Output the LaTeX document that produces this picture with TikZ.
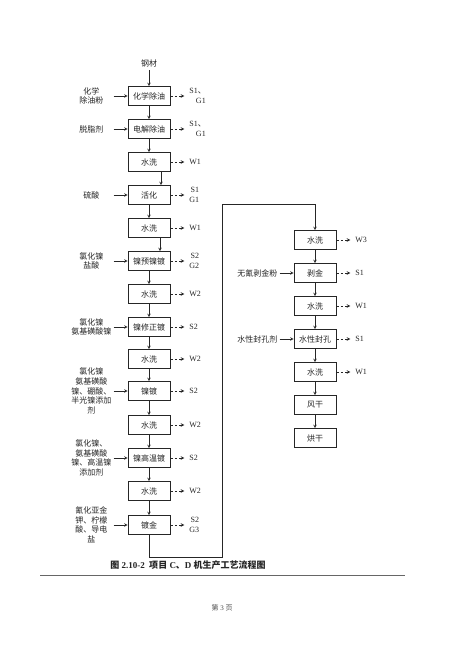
\documentclass[tikz,border=0pt]{standalone}
\usepackage{fontspec}
\setmainfont{Liberation Serif}
\newfontfamily\cjk{Noto Sans CJK SC}
\usetikzlibrary{positioning}

\tikzset{
  proc/.style={draw, minimum width=42pt, minimum height=19pt, inner sep=0pt,
    font=\cjk\fontsize{8}{9}\selectfont},
  inlbl/.style={inner sep=1pt, text width=42pt, align=center,
    font=\cjk\fontsize{8}{9.6}\selectfont},
  outlbl/.style={inner sep=1pt, outer sep=4pt, align=right,
    font=\fontsize{8}{10}\selectfont},
  flow/.style={->},
  outflow/.style={->, dash pattern=on 2.5pt off 2pt},
}

\begin{document}
\begin{tikzpicture}[x=1pt, y=-1pt, >=stealth, line width=0.6pt, color=black!85]
  \fill[white] (0,0) rectangle (459,650);
  \useasboundingbox (0,0) rectangle (459,650);

  % left column
  \node[font=\cjk\fontsize{8}{9}\selectfont] (raw) at (149,63) {钢材};
  \node[proc] (c1) at (149,96) {化学除油};
  \node[proc] (c2) at (149,129) {电解除油};
  \node[proc] (c3) at (149,162) {水洗};
  \node[proc] (c4) at (149,195) {活化};
  \node[proc] (c5) at (149,228) {水洗};
  \node[proc] (c6) at (149,261) {镍预镍镀};
  \node[proc] (c7) at (149,294) {水洗};
  \node[proc] (c8) at (149,327) {镍修正镀};
  \node[proc] (c9) at (149,359) {水洗};
  \node[proc] (c10) at (149,391) {镍镀};
  \node[proc] (c11) at (149,425) {水洗};
  \node[proc] (c12) at (149,458) {镍高温镀};
  \node[proc] (c13) at (149,491) {水洗};
  \node[proc] (c14) at (149,525) {镀金};

  \node[inlbl, left=14pt of c1] (i1) {化学\\除油粉};
  \node[inlbl, left=14pt of c2] (i2) {脱脂剂};
  \node[inlbl, left=14pt of c4] (i4) {硫酸};
  \node[inlbl, left=14pt of c6] (i6) {氯化镍\\盐酸};
  \node[inlbl, left=14pt of c8] (i8) {氯化镍\\氨基磺酸镍};
  \node[inlbl, left=14pt of c10] (i10) {氯化镍\\氨基磺酸\\镍、硼酸、\\半光镍添加\\剂};
  \node[inlbl, left=14pt of c12] (i12) {氯化镍、\\氨基磺酸\\镍、高温镍\\添加剂};
  \node[inlbl, left=14pt of c14] (i14) {氰化亚金\\钾、柠檬\\酸、导电\\盐};

  \node[outlbl, right=14pt of c1] (o1) {S1{\cjk 、}\\G1};
  \node[outlbl, right=14pt of c2] (o2) {S1{\cjk 、}\\G1};
  \node[outlbl, right=14pt of c3] (o3) {W1};
  \node[outlbl, right=14pt of c4] (o4) {S1\\G1};
  \node[outlbl, right=14pt of c5] (o5) {W1};
  \node[outlbl, right=14pt of c6] (o6) {S2\\G2};
  \node[outlbl, right=14pt of c7] (o7) {W2};
  \node[outlbl, right=14pt of c8] (o8) {S2};
  \node[outlbl, right=14pt of c9] (o9) {W2};
  \node[outlbl, right=14pt of c10] (o10) {S2};
  \node[outlbl, right=14pt of c11] (o11) {W2};
  \node[outlbl, right=14pt of c12] (o12) {S2};
  \node[outlbl, right=14pt of c13] (o13) {W2};
  \node[outlbl, right=14pt of c14] (o14) {S2\\G3};

  % right column
  \node[proc] (r1) at (315,240) {水洗};
  \node[proc] (r2) at (315,273) {剥金};
  \node[proc] (r3) at (315,306) {水洗};
  \node[proc] (r4) at (315,339) {水性封孔};
  \node[proc] (r5) at (315,372) {水洗};
  \node[proc] (r6) at (315,405) {风干};
  \node[proc] (r7) at (315,438) {烘干};

  \node[inlbl, left=14pt of r2] (j2) {无氰剥金粉};
  \node[inlbl, left=14pt of r4] (j4) {水性封孔剂};

  \node[outlbl, right=14pt of r1] (p1) {W3};
  \node[outlbl, right=14pt of r2] (p2) {S1};
  \node[outlbl, right=14pt of r3] (p3) {W1};
  \node[outlbl, right=14pt of r4] (p4) {S1};
  \node[outlbl, right=14pt of r5] (p5) {W1};

  % main flow
  \draw[flow] (raw) -- (c1);
  \draw[flow] (c1) -- (c2);
  \draw[flow] (c2) -- (c3);
  \draw[flow] ([xshift=12pt]c3.south) -- ([xshift=12pt]c4.north);
  \draw[flow] (c4) -- (c5);
  \draw[flow] ([xshift=11pt]c5.south) -- ([xshift=11pt]c6.north);
  \draw[flow] (c6) -- (c7);
  \draw[flow] (c7) -- (c8);
  \draw[flow] (c8) -- (c9);
  \draw[flow] (c9) -- (c10);
  \draw[flow] (c10) -- (c11);
  \draw[flow] (c11) -- (c12);
  \draw[flow] (c12) -- (c13);
  \draw[flow] (c13) -- (c14);
  \coordinate (lpa) at (222,557);
  \coordinate (lpb) at (222,204);
  \draw[flow] (c14) |- (lpa) -- (lpb) -| (r1);
  \draw[flow] (r1) -- (r2);
  \draw[flow] (r2) -- (r3);
  \draw[flow] (r3) -- (r4);
  \draw[flow] (r4) -- (r5);
  \draw[flow] (r5) -- (r6);
  \draw[flow] (r6) -- (r7);

  % inputs
  \draw[flow] (i1) -- (c1);
  \draw[flow] (i2) -- (c2);
  \draw[flow] (i4) -- (c4);
  \draw[flow] (i6) -- (c6);
  \draw[flow] (i8) -- (c8);
  \draw[flow] (i10) -- (c10);
  \draw[flow] (i12) -- (c12);
  \draw[flow] (i14) -- (c14);
  \draw[flow] (j2) -- (r2);
  \draw[flow] (j4) -- (r4);

  % outputs
  \draw[outflow] (c1) -- (o1);
  \draw[outflow] (c2) -- (o2);
  \draw[outflow] (c3) -- (o3);
  \draw[outflow] (c4) -- (o4);
  \draw[outflow] (c5) -- (o5);
  \draw[outflow] (c6) -- (o6);
  \draw[outflow] (c7) -- (o7);
  \draw[outflow] (c8) -- (o8);
  \draw[outflow] (c9) -- (o9);
  \draw[outflow] (c10) -- (o10);
  \draw[outflow] (c11) -- (o11);
  \draw[outflow] (c12) -- (o12);
  \draw[outflow] (c13) -- (o13);
  \draw[outflow] (c14) -- (o14);
  \draw[outflow] (r1) -- (p1);
  \draw[outflow] (r2) -- (p2);
  \draw[outflow] (r3) -- (p3);
  \draw[outflow] (r4) -- (p4);
  \draw[outflow] (r5) -- (p5);

  % caption and page
  \node[font=\bfseries\fontsize{9}{11}\selectfont] (cap) at (188,565)
    {{\cjk 图} 2.10-2\ \ {\cjk 项目} C{\cjk 、}D {\cjk 机生产工艺流程图}};
  \draw[black!60, line width=0.8pt] (40,575) -- (405,575);
  \node[font=\fontsize{7}{8}\selectfont, black!70] (pg) at (222,608) {{\cjk 第} 3 {\cjk 页}};
\end{tikzpicture}
\end{document}
